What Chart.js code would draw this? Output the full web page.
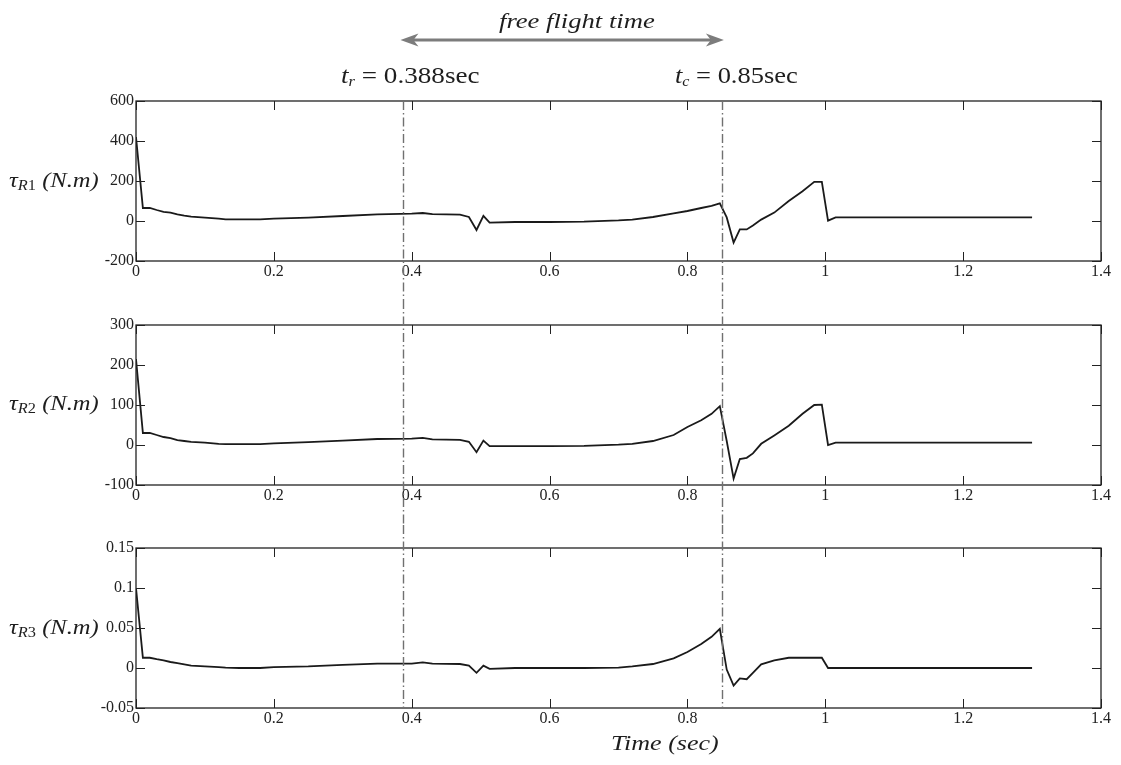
<!DOCTYPE html>
<html>
<head>
<meta charset="utf-8">
<script src="https://cdn.jsdelivr.net/npm/chart.js"></script>
<style>
  html, body { margin: 0; padding: 0; background: #fff; }
  body { width: 1121px; height: 765px; position: relative; overflow: hidden; font-family: "Liberation Serif", "DejaVu Serif", serif; color: #1e1e1e; }
  canvas { position: absolute; left: 0; }
  .lbl { position: absolute; white-space: nowrap; font-size: 21px; line-height: 1; transform-origin: 0 0; }
  .lbl sub { font-size: 14px; vertical-align: -3px; }
</style>
</head>
<body>

<canvas id="c1" width="1121" height="300" style="top:0px"></canvas>
<canvas id="c2" width="1121" height="225" style="top:300px"></canvas>
<canvas id="c3" width="1121" height="240" style="top:525px"></canvas>

<div class="lbl" style="left:499px; top:10px; font-style:italic; font-size:22px; transform:scaleX(1.21);">free flight time</div>
<div class="lbl" style="left:341px; top:64px; font-size:23px; transform:scaleX(1.18);"><i>t</i><sub><i>r</i></sub> = 0.388sec</div>
<div class="lbl" style="left:675px; top:64px; font-size:23px; transform:scaleX(1.15);"><i>t</i><sub><i>c</i></sub> = 0.85sec</div>

<div class="lbl" style="left:9px; top:170px; transform:scaleX(1.17);"><i>τ</i><sub><i>R</i>1</sub> <i>(N.m)</i></div>
<div class="lbl" style="left:9px; top:393px; transform:scaleX(1.17);"><i>τ</i><sub><i>R</i>2</sub> <i>(N.m)</i></div>
<div class="lbl" style="left:9px; top:617px; transform:scaleX(1.17);"><i>τ</i><sub><i>R</i>3</sub> <i>(N.m)</i></div>
<div class="lbl" style="left:611px; top:733px; font-style:italic; transform:scaleX(1.24);">Time (sec)</div>

<script>
// time samples (sec)
var t = [0, 0.01, 0.02, 0.03, 0.04, 0.05, 0.06, 0.07, 0.08, 0.1, 0.12, 0.13, 0.15, 0.18, 0.2,
         0.25, 0.3, 0.35, 0.4, 0.416, 0.43, 0.47, 0.483, 0.494, 0.504, 0.513, 0.55, 0.6, 0.65,
         0.7, 0.72, 0.75, 0.78, 0.8, 0.82, 0.835, 0.847, 0.857, 0.867, 0.876, 0.886, 0.895,
         0.907, 0.926, 0.947, 0.967, 0.984, 0.995, 1.004, 1.015, 1.1, 1.2, 1.3];

var tauR1 = [420, 65, 65, 55, 46, 42, 33, 27, 22, 17, 12, 8, 8, 8, 12,
             17, 25, 33, 37, 40, 34, 32, 20, -45, 26, -8, -5, -5, -3,
             3, 7, 20, 38, 50, 65, 76, 88, 18, -108, -42, -42, -23,
             7, 42, 100, 149, 196, 196, 2, 18, 18, 18, 18];

var tauR2 = [215, 30, 30, 25, 20, 17, 12, 10, 8, 6, 3, 2, 2, 2, 4,
             7, 11, 15, 16, 18, 14, 13, 8, -18, 11, -3, -3, -3, -2,
             1, 3, 10, 25, 45, 62, 78, 97, 10, -84, -35, -32, -21,
             3, 24, 48, 78, 100, 101, 0, 6, 6, 6, 6];

var tauR3 = [0.1, 0.0128, 0.0128, 0.011, 0.0095, 0.0075, 0.006, 0.0045, 0.003, 0.002, 0.001, 0.0005, 0, 0, 0.001,
             0.002, 0.004, 0.0055, 0.0055, 0.007, 0.0055, 0.005, 0.003, -0.006, 0.003, -0.001, 0, 0, 0,
             0.0005, 0.002, 0.005, 0.012, 0.02, 0.03, 0.039, 0.049, -0.002, -0.022, -0.013, -0.014, -0.006,
             0.0045, 0.0095, 0.0128, 0.0128, 0.0128, 0.0128, 0, 0, 0, 0, 0];

var tr = 0.388;   // release time
var tc = 0.85;    // capture time

var xTicks = { min: 0, max: 1.4, step: 0.2 };
var yRanges = [
    { min: -200, max: 600, step: 200 },
    { min: -100, max: 300, step: 100 },
    { min: -0.05, max: 0.15, step: 0.05 }
];

var tickFont = { family: 'Liberation Serif', size: 16 };

// frame, inward ticks, dash-dot event lines, flight arrow
var decorPlugin = {
    id: 'decor',
    afterDraw: function (chart, args, opts) {
        var ctx = chart.ctx;
        var a = chart.chartArea;
        var xs = chart.scales.x, ys = chart.scales.y;
        ctx.save();
        ctx.strokeStyle = '#222';
        ctx.lineWidth = 1.3;
        ctx.strokeRect(a.left, a.top, a.right - a.left, a.bottom - a.top);
        ctx.lineWidth = 1;
        ctx.beginPath();
        xs.ticks.forEach(function (tk) {
            var px = Math.round(xs.getPixelForValue(tk.value)) + 0.5;
            ctx.moveTo(px, a.top); ctx.lineTo(px, a.top + 9);
            ctx.moveTo(px, a.bottom); ctx.lineTo(px, a.bottom - 9);
        });
        ys.ticks.forEach(function (tk) {
            var py = Math.round(ys.getPixelForValue(tk.value)) + 0.5;
            ctx.moveTo(a.left, py); ctx.lineTo(a.left + 9, py);
            ctx.moveTo(a.right, py); ctx.lineTo(a.right - 9, py);
        });
        ctx.stroke();

        // event lines
        var y0 = opts.lineTop === 'area' ? a.top : 0;
        var y1 = opts.lineBottom === 'area' ? a.bottom : chart.height;
        ctx.strokeStyle = '#707070';
        ctx.lineWidth = 1.4;
        ctx.setLineDash([9, 3, 1.5, 3]);
        [tr, tc].forEach(function (v) {
            var px = Math.round(xs.getPixelForValue(v)) + 0.5;
            ctx.beginPath();
            ctx.moveTo(px, y0); ctx.lineTo(px, y1);
            ctx.stroke();
        });
        ctx.setLineDash([]);

        if (opts.arrow) {
            var xa = xs.getPixelForValue(tr) - 3, xb = xs.getPixelForValue(tc) + 2, ya = 40;
            ctx.strokeStyle = '#7c7c7c';
            ctx.fillStyle = '#7c7c7c';
            ctx.lineWidth = 3;
            ctx.beginPath();
            ctx.moveTo(xa + 10, ya); ctx.lineTo(xb - 10, ya);
            ctx.stroke();
            ctx.beginPath();
            ctx.moveTo(xa, ya); ctx.lineTo(xa + 18, ya - 6.5); ctx.lineTo(xa + 13, ya); ctx.lineTo(xa + 18, ya + 6.5);
            ctx.closePath(); ctx.fill();
            ctx.beginPath();
            ctx.moveTo(xb, ya); ctx.lineTo(xb - 18, ya - 6.5); ctx.lineTo(xb - 13, ya); ctx.lineTo(xb - 18, ya + 6.5);
            ctx.closePath(); ctx.fill();
        }
        ctx.restore();
    }
};

function fmt(v) {
    return String(Math.round(v * 1e6) / 1e6);
}

function makeChart(id, values, range, padTop, xHeight, decor) {
    var pts = t.map(function (x, i) { return { x: x, y: values[i] }; });
    return new Chart(document.getElementById(id), {
        type: 'line',
        data: {
            datasets: [{
                data: pts,
                borderColor: '#1a1a1a',
                borderWidth: 1.8,
                pointRadius: 0,
                tension: 0,
                fill: false
            }]
        },
        options: {
            responsive: false,
            animation: false,
            layout: { padding: { top: padTop, right: 20, bottom: 0, left: 0 } },
            plugins: { legend: { display: false }, tooltip: { enabled: false }, decor: decor },
            scales: {
                x: {
                    type: 'linear',
                    min: xTicks.min, max: xTicks.max,
                    grid: { display: false, drawTicks: false, tickLength: 0 },
                    border: { display: false },
                    ticks: { stepSize: xTicks.step, font: tickFont, color: '#222', padding: 1, maxRotation: 0, callback: fmt },
                    afterFit: function (s) { s.height = xHeight; }
                },
                y: {
                    min: range.min, max: range.max,
                    grid: { display: false, drawTicks: false, tickLength: 0 },
                    border: { display: false },
                    ticks: { stepSize: range.step, font: tickFont, color: '#222', padding: 2, callback: fmt },
                    afterFit: function (s) { s.width = 136; }
                }
            }
        },
        plugins: [decorPlugin]
    });
}

makeChart('c1', tauR1, yRanges[0], 101, 39, { arrow: true, lineTop: 'area', lineBottom: 'canvas' });
makeChart('c2', tauR2, yRanges[1], 25, 40, { arrow: false, lineTop: 'canvas', lineBottom: 'canvas' });
makeChart('c3', tauR3, yRanges[2], 23, 57, { arrow: false, lineTop: 'canvas', lineBottom: 'area' });
</script>
</body>
</html>
